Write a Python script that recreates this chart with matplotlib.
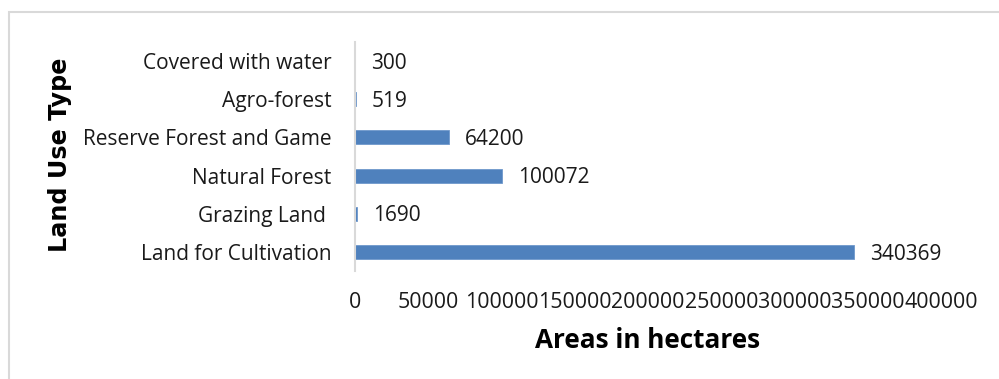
import numpy as np
import matplotlib.pyplot as plt
from matplotlib.patches import Rectangle

# land use types, bottom to top
land_use = ['Land for Cultivation', 'Grazing Land ', 'Natural Forest',
            'Reserve Forest and Game', 'Agro-forest', 'Covered with water']
hectares = [340369, 1690, 100072, 64200, 519, 300]
x_ticks = np.arange(0, 400001, 50000)

plt.rcParams['font.family'] = ['Open Sans', 'DejaVu Sans']

fig = plt.figure(figsize=(9.99, 3.79), dpi=100)
ax = fig.add_axes([355/999, 1 - 271/379, 586/999, 229/379])

y = np.arange(len(land_use))
bars = ax.barh(y, hectares, height=0.37, color='#4f81bd', edgecolor='#6f98cc', linewidth=0.6)

for yy, v in zip(y, hectares):
    ax.annotate(str(v), xy=(v, yy), xytext=(11.5, -1.5), textcoords='offset points',
                ha='left', va='center', fontsize=15, color='#1a1a1a')

ax.set_xlim(0, 400000)
ax.set_ylim(-0.5, len(land_use) - 0.5)
ax.set_xticks(x_ticks)
ax.set_xticklabels([str(t) for t in x_ticks])
ax.set_yticks(y)
ax.set_yticklabels(land_use)
ax.tick_params(axis='x', length=0, labelsize=15.4, colors='#1a1a1a', pad=15)
ax.tick_params(axis='y', length=0, labelsize=15, colors='#1a1a1a', pad=17)

for s in ['top', 'right', 'bottom']:
    ax.spines[s].set_visible(False)
ax.spines['left'].set_color('#d9d9d9')
ax.spines['left'].set_linewidth(1.5)

fig.text(648/999, 1 - 341/379, 'Areas in hectares', ha='center', va='center',
         fontsize=18.8, fontweight='bold', color='black')
fig.text(60/999, 1 - 155/379, 'Land Use Type', ha='center', va='center', rotation=90,
         fontsize=17.2, fontweight='bold', color='black', family='DejaVu Sans')

# light frame around the chart area
fig.patches.append(Rectangle((8.5/999, -0.1), 1.2, 1 - 12.5/379 + 0.1, transform=fig.transFigure,
                             fill=False, edgecolor='#d9d9d9', linewidth=1.5))

fig.savefig('out.png', dpi=100)
